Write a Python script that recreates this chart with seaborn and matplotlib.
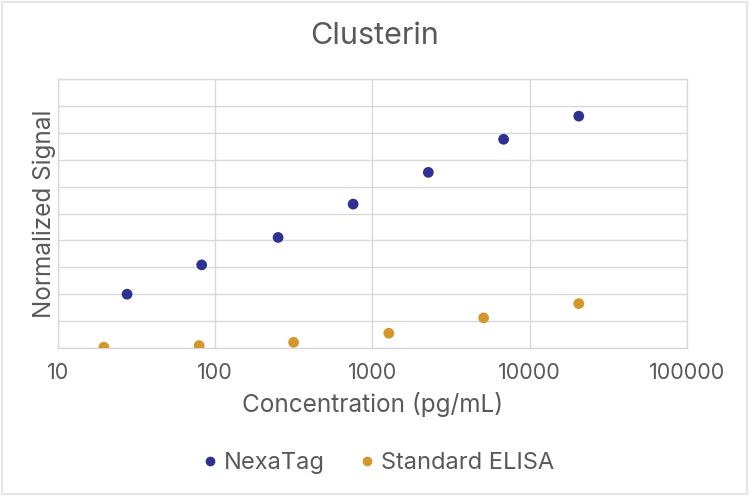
import matplotlib
matplotlib.use("Agg")
import matplotlib.pyplot as plt
import matplotlib.patches as mpatches
import seaborn as sns
import pandas as pd

# --- data ---
nexa_conc = [27.5, 82, 251, 753, 2265, 6820, 20500]
nexa_signal = [2.0, 3.09, 4.11, 5.35, 6.53, 7.76, 8.62]
elisa_conc = [19.6, 79, 315, 1270, 5090, 20500]
elisa_signal = [0.03, 0.09, 0.21, 0.55, 1.12, 1.65]
series_names = ["NexaTag", "Standard ELISA"]
x_ticks = [10, 100, 1000, 10000, 100000]
x_tick_labels = ["10", "100", "1000", "10000", "100000"]

df = pd.concat([
    pd.DataFrame({"conc": nexa_conc, "signal": nexa_signal, "series": series_names[0]}),
    pd.DataFrame({"conc": elisa_conc, "signal": elisa_signal, "series": series_names[1]}),
])

palette = {"NexaTag": "#2e3192", "Standard ELISA": "#d4982a"}
text_col = "#595959"
grid_col = "#d9d9d9"

sns.set_theme(style="white")
plt.rcParams["font.family"] = ["Inter", "DejaVu Sans"]

fig = plt.figure(figsize=(7.5, 4.97), dpi=100)
ax = fig.add_axes([0.0773, 0.2998, 0.8387, 0.5412])

sns.scatterplot(ax=ax, data=df, x="conc", y="signal", hue="series",
                palette=palette, s=60, linewidth=0, legend=False, zorder=3)

ax.set_xscale("log")
ax.set_xlim(10, 100000)
ax.set_ylim(0, 10)
ax.set_xticks(x_ticks)
ax.set_xticklabels(x_tick_labels)
ax.minorticks_off()
ax.set_yticks(range(0, 11))
ax.set_yticklabels([])
ax.tick_params(axis="both", length=0, labelsize=15.5, labelcolor=text_col, pad=11)
ax.grid(True, color=grid_col, linewidth=1)
ax.set_axisbelow(True)
for sp in ax.spines.values():
    sp.set_color(grid_col)
    sp.set_linewidth(1)

ax.set_xlabel("Concentration (pg/mL)", fontsize=17.5, color=text_col, labelpad=6)
ax.set_ylabel("Normalized Signal", fontsize=17.5, color=text_col, labelpad=0)
ax.yaxis.set_label_coords(-0.003, 0.5)
fig.suptitle("Clusterin", fontsize=22, color=text_col, y=0.955)

handles = [plt.Line2D([], [], marker="o", linestyle="", markersize=7,
                      markerfacecolor=palette[n], markeredgewidth=0)
           for n in series_names]
fig.legend(handles, series_names, loc="center", bbox_to_anchor=(0.5, 0.068),
           ncol=2, frameon=False, fontsize=17, handletextpad=0.0, handlelength=1.2,
           columnspacing=1.2, labelcolor=text_col)

# light frame around the whole picture
fig.patches.append(mpatches.Rectangle((0.002, 0.006), 0.994, 0.99, transform=fig.transFigure,
                                      fill=False, edgecolor="#e6e6e6", linewidth=1.5))

fig.savefig("out.png", dpi=100)
